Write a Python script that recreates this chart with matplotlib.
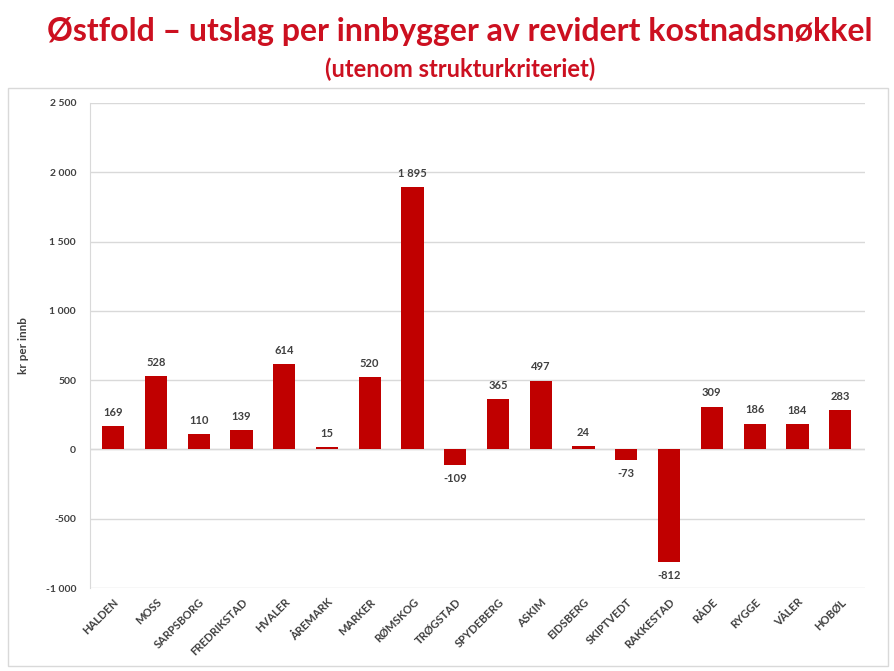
import matplotlib
matplotlib.use("Agg")
import matplotlib.pyplot as plt
from matplotlib.patches import Rectangle
from matplotlib.ticker import FuncFormatter

categories = ["HALDEN", "MOSS", "SARPSBORG", "FREDRIKSTAD", "HVALER", "ÅREMARK",
              "MARKER", "RØMSKOG", "TRØGSTAD", "SPYDEBERG", "ASKIM", "EIDSBERG",
              "SKIPTVEDT", "RAKKESTAD", "RÅDE", "RYGGE", "VÅLER", "HOBØL"]
values = [169, 528, 110, 139, 614, 15, 520, 1895, -109, 365, 497, 24, -73, -812,
          309, 186, 184, 283]
yticks = [-1000, -500, 0, 500, 1000, 1500, 2000, 2500]

plt.rcParams['font.family'] = ['Lato', 'DejaVu Sans']

fig = plt.figure(figsize=(8.95, 6.71), dpi=100)
ax = fig.add_axes([90/895, 1-588/671, (865-90)/895, (588-103)/671])

def fmt(v):
    s = f"{abs(int(v)):,}".replace(",", " ")
    return ("-" if v < 0 else "") + s

x = list(range(len(categories)))
ax.bar(x, values, width=0.52, color="#C00000", zorder=3)
ax.set_xlim(-0.54, len(categories) - 1 + 0.58)
ax.set_ylim(-1000, 2500)
ax.set_yticks(yticks)
ax.yaxis.set_major_formatter(FuncFormatter(lambda v, p: fmt(v)))
ax.grid(axis="y", color="#D9D9D9", linewidth=1, zorder=0)
for s in ["top", "right", "bottom"]:
    ax.spines[s].set_visible(False)
ax.spines["left"].set_color("#D9D9D9")
ax.axhline(0, color="#D9D9D9", linewidth=1, zorder=1)
ax.tick_params(axis="y", length=0, labelsize=7.5, labelcolor="#404040", pad=10)
ax.tick_params(axis="x", length=0, pad=6)
for lbl in ax.get_yticklabels():
    lbl.set_fontweight("bold")
ax.set_xticks(x)
ax.set_xticklabels(categories, rotation=45, ha="right", rotation_mode="anchor",
                   fontsize=8, fontweight="bold", color="#404040")
ax.set_ylabel("kr per innb", fontsize=8.5, fontweight="bold", color="#404040", labelpad=12)

for xi, v in zip(x, values):
    if v >= 0:
        ax.annotate(fmt(v), (xi, v), xytext=(0, 6), textcoords="offset points",
                    ha="center", va="bottom", fontsize=8, fontweight="bold", color="#404040")
    else:
        ax.annotate(fmt(v), (xi, v), xytext=(0, -6), textcoords="offset points",
                    ha="center", va="top", fontsize=8, fontweight="bold", color="#404040")

fig.patches.append(Rectangle((8/895, 1-666/671), 880/895, 578/671, transform=fig.transFigure,
                             fill=False, edgecolor="#D9D9D9", linewidth=1))

fig.text(460/895, 1-32/671, "Østfold – utslag per innbygger av revidert kostnadsnøkkel",
         ha="center", va="center", fontsize=23, fontweight="bold", color="#CC1020")
fig.text(460/895, 1-69/671, "(utenom strukturkriteriet)",
         ha="center", va="center", fontsize=17, fontweight="bold", color="#CC1020")

fig.savefig("out.png", dpi=100)
